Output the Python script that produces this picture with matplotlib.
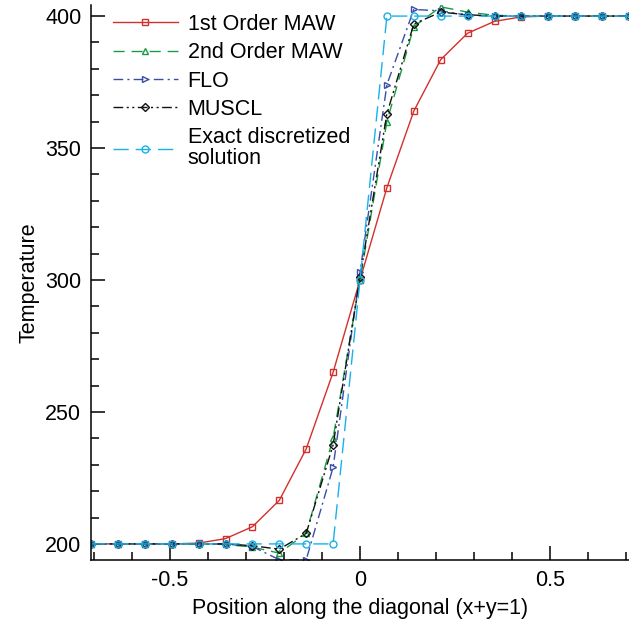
import numpy as np
import matplotlib
matplotlib.use("Agg")
import matplotlib.pyplot as plt
from matplotlib.ticker import MultipleLocator, FormatStrFormatter

plt.rcParams['font.family'] = ['Liberation Sans', 'DejaVu Sans']
plt.rcParams['axes.unicode_minus'] = False

# Data
x = np.arange(-10, 11) * np.sqrt(2) / 20
first_order = [200, 200, 200, 200, 200.3, 202, 206.5, 216.5, 236, 265, 300,
               335, 364, 383.5, 393.5, 398, 399.7, 400, 400, 400, 400]
second_order = [200, 200, 200, 200, 200, 199.8, 198.8, 196.5, 204, 240, 300,
                360, 396, 403.5, 401.5, 400.3, 400, 400, 400, 400, 400]
flo = [200, 200, 200, 200, 200, 200, 199, 194, 194, 229, 303,
       374, 402.5, 402, 400.3, 400, 400, 400, 400, 400, 400]
muscl = [200, 200, 200, 200, 200, 200, 199.3, 198, 204, 237.5, 301,
         363, 397, 401.5, 400.5, 400, 400, 400, 400, 400, 400]
exact = [200] * 10 + [300] + [400] * 10

labels = ["1st Order MAW", "2nd Order MAW", "FLO", "MUSCL",
          "Exact discretized\nsolution"]

fig = plt.figure(figsize=(6.29, 6.22), dpi=100)
ax = fig.add_axes([91/629, 1 - 560/622, 1 - 91/629, 555/622])

ms = 5
lw = 1.0
ax.plot(x, first_order, color='#d2302c', lw=lw, ls='-', marker='s', ms=ms,
        mfc='none', mew=1.0, label=labels[0])
ax.plot(x, second_order, color='#1a9a44', lw=lw, ls=(0, (8, 5)), marker='^', ms=ms,
        mfc='none', mew=1.0, label=labels[1])
ax.plot(x, flo, color='#3a4da8', lw=lw, ls=(0, (7, 3, 1.5, 3)), marker='>', ms=ms,
        mfc='none', mew=1.0, label=labels[2])
ax.plot(x, muscl, color='#111111', lw=lw, ls=(0, (7, 2.5, 1.5, 2.5, 1.5, 2.5)), marker='D', ms=4,
        mfc='none', mew=1.0, label=labels[3])
ax.plot(x, exact, color='#19b1e8', lw=lw, ls=(0, (11, 5)), marker='o', ms=ms,
        mfc='none', mew=1.0, label=labels[4])

ax.set_xlim(-np.sqrt(2)/2, np.sqrt(2)/2)
ax.set_ylim(193.9, 404.2)

for s in ['top', 'right']:
    ax.spines[s].set_visible(False)
for s in ['left', 'bottom']:
    ax.spines[s].set_linewidth(1.1)

ax.xaxis.set_major_locator(MultipleLocator(0.5))
ax.xaxis.set_minor_locator(MultipleLocator(0.1))
ax.xaxis.set_major_formatter(FormatStrFormatter('%g'))
ax.yaxis.set_major_locator(MultipleLocator(50))
ax.yaxis.set_minor_locator(MultipleLocator(10))
ax.tick_params(which='both', direction='in', width=1.1, labelsize=15.5)
ax.tick_params(which='major', length=10, pad=7)
ax.tick_params(which='minor', length=6)

ax.set_xlabel("Position along the diagonal (x+y=1)", fontsize=15.5, labelpad=5)
ax.set_ylabel("Temperature", fontsize=15.5, labelpad=4)

leg = ax.legend(loc='upper left', bbox_to_anchor=(22/538, 0.984), frameon=False,
                fontsize=15.5, handlelength=3.0, handletextpad=0.47, labelspacing=0.34,
                borderpad=0, borderaxespad=0)
for t in leg.get_texts():
    t.set_linespacing(1.0)

fig.savefig("out.png", dpi=100)
